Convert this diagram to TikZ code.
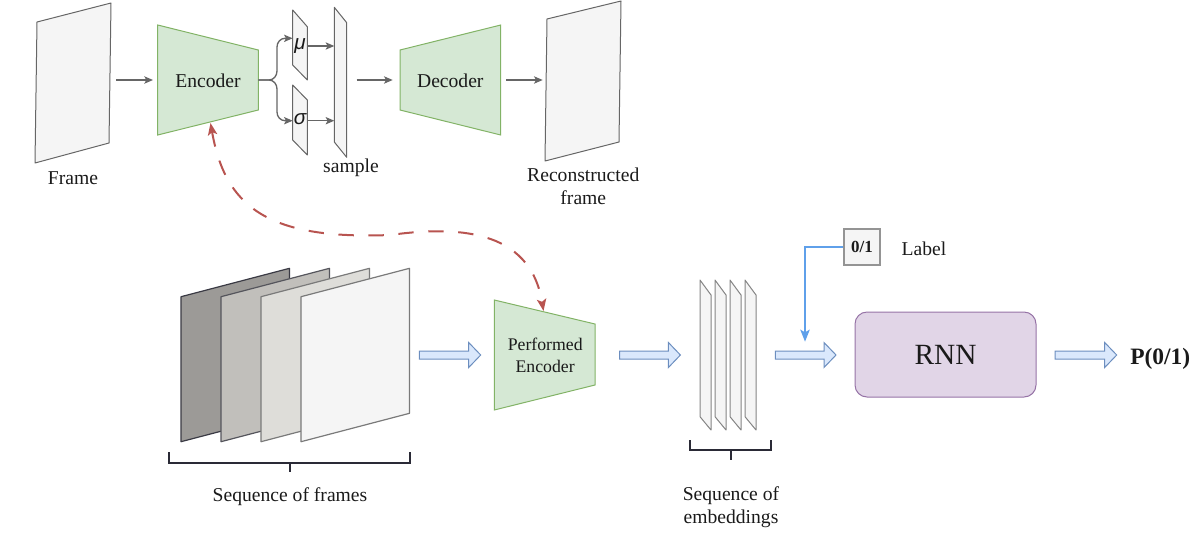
\documentclass[tikz,border=0pt]{standalone}
\usepackage{fontspec}
\setmainfont{Liberation Serif}
\newfontfamily\greekfont{Liberation Sans}
\usetikzlibrary{arrows.meta}
\definecolor{gfill}{HTML}{D5E8D4}
\definecolor{gline}{HTML}{82B366}
\definecolor{pfill}{HTML}{E1D5E7}
\definecolor{pline}{HTML}{9673A6}
\definecolor{bfill}{HTML}{DAE8FC}
\definecolor{bline}{HTML}{6C8EBF}
\definecolor{lfill}{HTML}{F5F5F5}
\definecolor{lline}{HTML}{666666}
\definecolor{redc}{HTML}{B85450}
\definecolor{txt}{HTML}{1A1A1A}
\definecolor{labblue}{HTML}{5FA0EA}
\definecolor{brk}{HTML}{2A2A36}
\definecolor{fa}{HTML}{9C9A97}\definecolor{fas}{HTML}{3A3A44}
\definecolor{fb}{HTML}{C1BFBB}\definecolor{fbs}{HTML}{55555C}
\definecolor{fc}{HTML}{DEDDD9}\definecolor{fcs}{HTML}{7A7A7A}
\definecolor{fd}{HTML}{F5F5F5}\definecolor{fds}{HTML}{7A7A7A}
\newcommand\blockarr[2]{\draw[barrow] (#1,351) -- ({#2-12},351) -- ({#2-12},342.5) -- (#2,355) -- ({#2-12},367.5) -- ({#2-12},359) -- (#1,359) -- cycle;}
\begin{document}
\begin{tikzpicture}[x=0.75pt,y=-0.75pt,
 lbl/.style={font=\fontsize{14.7}{17.6}\selectfont, text=txt, inner sep=0pt, anchor=base},
 sheet/.style={fill=lfill, draw=lline, line width=0.75pt, line join=round},
 trap/.style={fill=gfill, draw=gline, line width=0.75pt},
 garrow/.style={draw=lline, line width=1pt, -{Stealth[length=6.5pt,width=5.5pt,inset=1.5pt]}},
 rarrow/.style={draw=redc, line width=1.5pt, dash pattern=on 11.5pt off 11pt, {Stealth[length=9pt,width=7pt,inset=2pt]}-{Stealth[length=9pt,width=7pt,inset=2pt]}},
 barrow/.style={fill=bfill, draw=bline, line width=0.75pt, line join=miter},
 bracestyle/.style={draw=brk, line width=1.5pt},
 greek/.style={inner sep=0pt, text=txt, font=\greekfont\itshape\fontsize{15.5}{18}\selectfont},
]
\useasboundingbox (0,0) rectangle (1193,551);

% ---------- top row ----------
\draw[sheet] (37,22) -- (111,3) -- (109,143) -- (35,163) -- cycle;
\node[lbl] (framelbl) at (73,184.3) {Frame};

\draw[trap] (157.7,25) -- (258.3,50) -- (258.3,110) -- (157.7,135) -- cycle;
\node[lbl] (enc) at (208,87.3) {Encoder};

\coordinate (frameR) at (116,80);
\coordinate (encL) at (153,80);
\coordinate (encR) at (258.3,80);
\draw[garrow] (frameR) -- (encL);

% mu / sigma
\draw[sheet] (292.7,10) -- (307.3,26.7) -- (307.3,80) -- (292.7,65) -- cycle;
\draw[sheet] (292.7,85) -- (307.3,100) -- (307.3,155) -- (292.7,140) -- cycle;
\node[greek] (mu) at (300,46) {μ};
\node[greek] (sigma) at (300,119.5) {σ};
\coordinate (muL) at (292.7,38.3);
\coordinate (sgL) at (292.7,120.7);
\draw[garrow] (encR) -- (269,80) to[out=0,in=-90] (277,71) -- (277,47) to[out=90,in=180] (285,38.3) -- (muL);
\draw[garrow] (encR) -- (269,80) to[out=0,in=90] (277,89) -- (277,112) to[out=-90,in=180] (285,120.7) -- (sgL);

% sample
\draw[sheet] (334.3,7.3) -- (346.7,22.7) -- (346.7,157.3) -- (334.3,142) -- cycle;
\node[lbl] (samplelbl) at (351,172.7) {sample};
\coordinate (muR) at (307.3,46);
\coordinate (sgR) at (307.3,120.7);
\coordinate (smpA) at (334.3,46);
\coordinate (smpB) at (334.3,120.7);
\draw[garrow] (muR) -- (smpA);
\draw[garrow] (sgR) -- (smpB);

% decoder
\draw[trap] (400,50) -- (500.7,25) -- (500.7,135) -- (400,110) -- cycle;
\node[lbl] (dec) at (450.3,87.3) {Decoder};
\coordinate (smpR) at (356.7,80);
\coordinate (decL) at (392.7,80);
\coordinate (decR) at (506,80);
\coordinate (recL) at (542.7,80);
\draw[garrow] (smpR) -- (decL);
\draw[garrow] (decR) -- (recL);

% reconstructed frame
\draw[sheet] (547,19) -- (621,1) -- (619,142) -- (545,161) -- cycle;
\node[lbl] (reclbl1) at (583.3,181) {Reconstructed};
\node[lbl] (reclbl2) at (583.3,204) {frame};

% ---------- bottom row ----------
\foreach \i/\f/\s in {0/fa/fas,1/fb/fbs,2/fc/fcs,3/fd/fds}{
  \draw[fill=\f, draw=\s, line width=0.9pt, line join=round]
    ({181+40*\i},296.7) -- ({289.5+40*\i},268.3) -- ({289.5+40*\i},413.3) -- ({181+40*\i},441.7) -- cycle;
}
\draw[bracestyle] (169.3,452.3) -- (169.3,462.7) -- (410,462.7) -- (410,452.3);
\draw[bracestyle] (290,462.7) -- (290,472.3);
\node[lbl] (seqf) at (290,501.7) {Sequence of frames};

\blockarr{419.3}{480.7}

% performed encoder
\draw[trap] (494.3,300) -- (595,324) -- (595,385) -- (494.3,410) -- cycle;
\node[lbl, font=\fontsize{13.3}{16}\selectfont] (penc1) at (545.2,350.7) {Performed};
\node[lbl, font=\fontsize{13.3}{16}\selectfont] (penc2) at (545.2,372.7) {Encoder};

% dashed red connector
\coordinate (encB) at (210.5,123);
\coordinate (pencT) at (543.5,311);
\draw[rarrow] (encB) .. controls (225,205) and (265,240) .. (390,235)
   .. controls (455,226) and (530,228) .. (pencT);

\blockarr{619.7}{680.4}

% embeddings
\foreach \L in {700,715,730,745}{
  \draw[sheet, draw=lline!80] (\L,280) -- ({\L+11},295) -- ({\L+11},430) -- (\L,416.7) -- cycle;
}
\draw[bracestyle] (690,440) -- (690,450) -- (770.7,450) -- (770.7,440);
\draw[bracestyle] (730.9,450) -- (730.9,460);
\node[lbl] (seqe1) at (731,500) {Sequence of};
\node[lbl] (seqe2) at (731,523.5) {embeddings};

\blockarr{775.3}{836}

% label box
\node[draw=lline!70, fill=lfill, line width=0.9pt, minimum width=27pt, minimum height=27pt, inner sep=0pt,
      font=\fontsize{12.7}{15}\bfseries\selectfont, text=txt] (lab) at (862,247) {0/1};
\node[lbl] (labtxt) at (924,255) {Label};
\coordinate (labin) at (805,341.7);
\draw[draw=labblue, line width=1.6pt, -{Stealth[length=9pt,width=7pt,inset=2pt]}] (lab.west) -| (labin);

% RNN
\node[fill=pfill, draw=pline, line width=0.75pt, rounded corners=9pt, minimum width=135.75pt, minimum height=63.75pt,
      font=\fontsize{22}{26}\selectfont, text=txt] (rnn) at (945.5,354.5) {RNN};

\blockarr{1055.2}{1116.7}
\node[lbl, anchor=base west, font=\fontsize{17.6}{21}\bfseries\selectfont] (pout) at (1130,364) {P(0/1)};
\end{tikzpicture}
\end{document}
